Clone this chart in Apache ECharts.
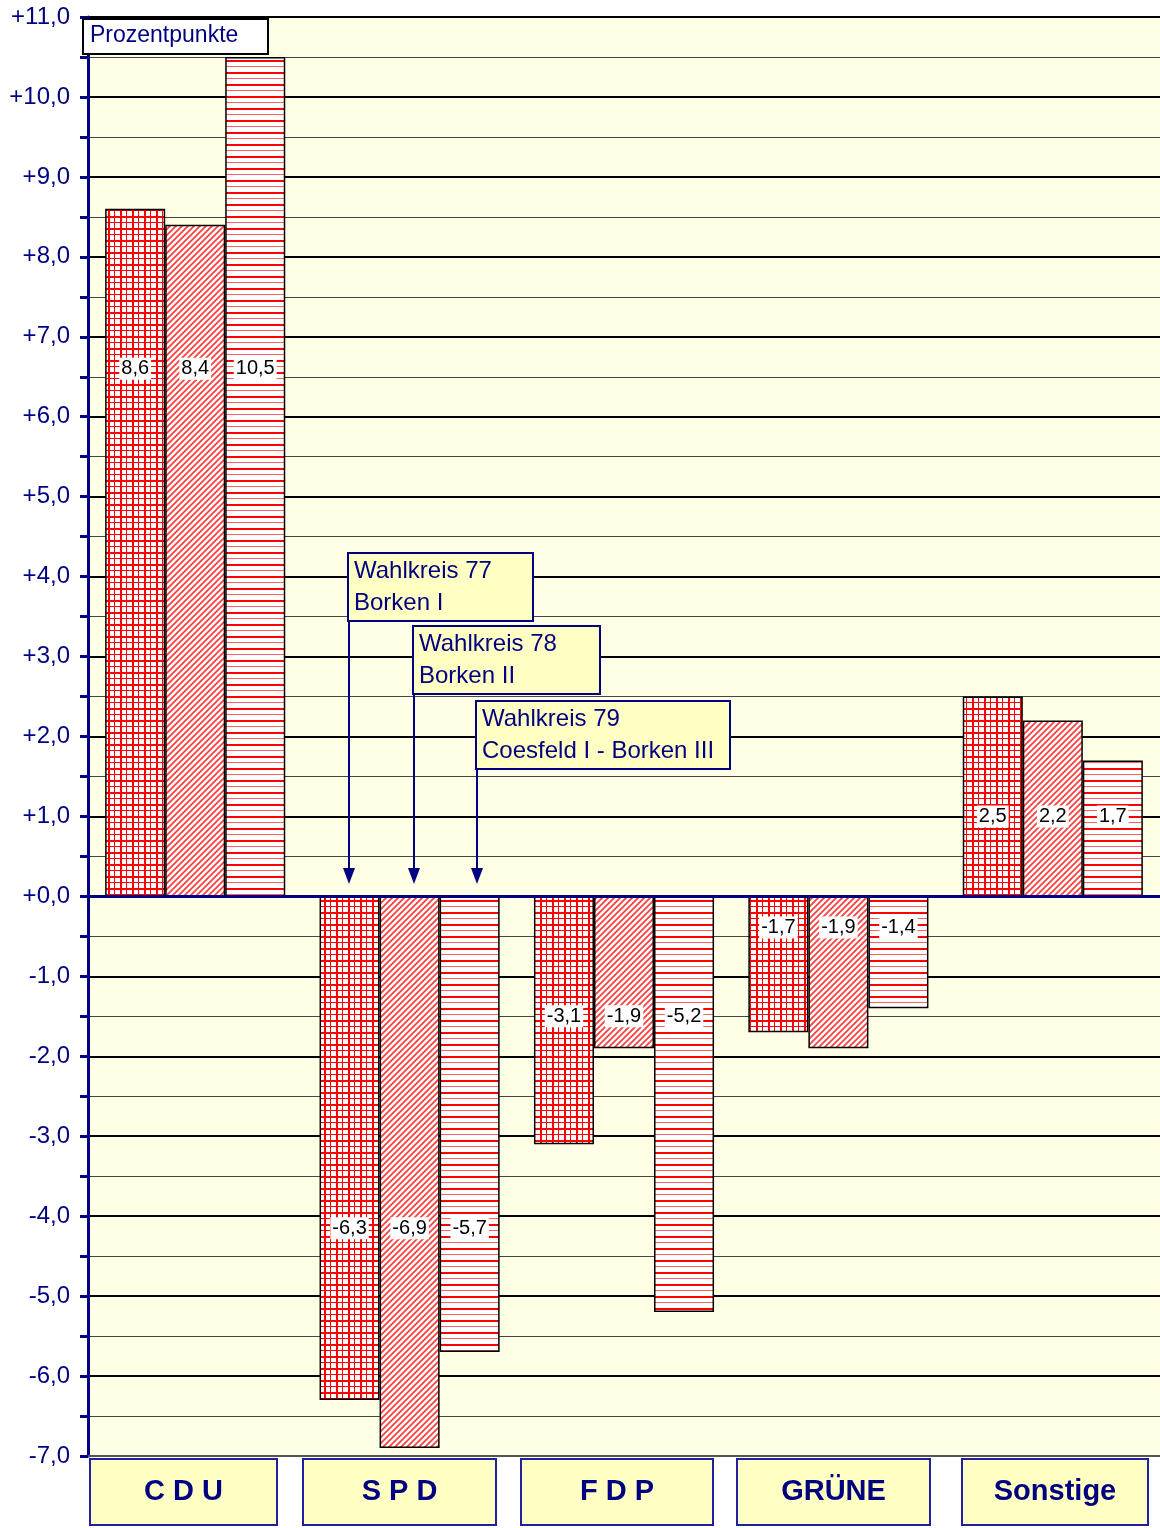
<!DOCTYPE html>
<html>
<head>
<meta charset="utf-8">
<script src="https://cdn.jsdelivr.net/npm/echarts@6/dist/echarts.min.js"></script>
<style>
  html, body { margin: 0; padding: 0; background: #fff; }
  #main { width: 1160px; height: 1528px; }
</style>
</head>
<body>
<div id="main"></div>
<script>
// Daten
const categories = ['C D U', 'S P D', 'F D P', 'GRÜNE', 'Sonstige']
const seriesNames = ['Wahlkreis 77', 'Wahlkreis 78', 'Wahlkreis 79']
const wk77 = [8.6, -6.3, -3.1, -1.7, 2.5]
const wk78 = [8.4, -6.9, -1.9, -1.9, 2.2]
const wk79 = [10.5, -5.7, -5.2, -1.4, 1.7]
const boxTexts = [
  ['Wahlkreis 77', 'Borken I'],
  ['Wahlkreis 78', 'Borken II'],
  ['Wahlkreis 79', 'Coesfeld I - Borken III']
]

const NAVY = '#000080'
const FONT = '"Liberation Sans", Arial, sans-serif'
const fmt = v => (v >= 0 ? '+' : '') + v.toFixed(1).replace('.', ',')
const fmtLabel = v => v.toFixed(1).replace('.', ',')

// Schraffur-Muster
function makePattern(kind) {
  const c = document.createElement('canvas')
  const s = kind === 'diag' ? 6 : 12
  c.width = s
  c.height = s
  const ctx = c.getContext('2d')
  ctx.fillStyle = '#fff'
  ctx.fillRect(0, 0, s, s)
  ctx.fillStyle = '#ff0000'
  if (kind === 'grid') {
    ctx.fillRect(0, 0, 2, s)
    ctx.fillRect(6, 0, 1, s)
    ctx.fillRect(0, 0, s, 2)
    ctx.fillRect(0, 6, s, 1)
  } else if (kind === 'hline') {
    ctx.fillRect(0, 0, s, 2)
    ctx.fillStyle = '#ff6060'
    ctx.fillRect(0, 6, s, 1)
  } else {
    ctx.strokeStyle = '#ff4040'
    ctx.lineWidth = 1.8
    ctx.beginPath()
    ctx.moveTo(-1, s + 1); ctx.lineTo(s + 1, -1)
    ctx.moveTo(-1, 1); ctx.lineTo(1, -1)
    ctx.moveTo(s - 1, s + 1); ctx.lineTo(s + 1, s - 1)
    ctx.stroke()
  }
  return { image: c, repeat: 'repeat' }
}
const patterns = [makePattern('grid'), makePattern('diag'), makePattern('hline')]

// Höhe der Wertebeschriftung je Partei (in Prozentpunkten)
const labelLevel = [6.6, -4.15, -1.5, -0.39, 1.0]
// Lage der Parteikästen unter der Achse (px)
const boxLeft = [90, 303, 521, 737, 962]
const boxWidth = [187, 193, 192, 193, 186]

const chart = echarts.init(document.getElementById('main'))

const buildSeries = offsets => [wk77, wk78, wk79].map((vals, i) => ({
  name: seriesNames[i],
  type: 'bar',
  barGap: 0,
  barCategoryGap: '16%',
  data: vals.map((v, j) => ({
    value: v,
    label: { offset: [0, offsets ? offsets[i][j] : 0] }
  })),
  itemStyle: {
    color: patterns[i],
    borderColor: '#000',
    borderWidth: 1.5
  },
  label: {
    show: true,
    position: 'inside',
    formatter: p => fmtLabel(p.value),
    color: '#000',
    fontFamily: FONT,
    fontSize: 20,
    backgroundColor: '#fff',
    padding: [2, 2, 0, 2]
  },
  markLine: i === 0 ? {
    silent: true,
    symbol: 'none',
    label: { show: false },
    lineStyle: { color: NAVY, width: 3, type: 'solid' },
    data: [{ yAxis: 0 }]
  } : undefined
}))

function annotation(idx, x, y, w, h, tipY) {
  return {
    type: 'group',
    children: [
      {
        type: 'line',
        z: 100,
        shape: { x1: x + 1, y1: y, x2: x + 1, y2: tipY - 10 },
        style: { stroke: NAVY, lineWidth: 2 }
      },
      {
        type: 'polygon',
        z: 100,
        shape: { points: [[x + 1 - 6, tipY - 16], [x + 1 + 6, tipY - 16], [x + 1, tipY]] },
        style: { fill: NAVY }
      },
      {
        type: 'rect',
        z: 101,
        shape: { x: x, y: y, width: w, height: h },
        style: { fill: '#FFFFC4', stroke: NAVY, lineWidth: 2 }
      },
      {
        type: 'text',
        z: 102,
        x: x + 6,
        y: y + 2,
        style: {
          text: boxTexts[idx].join('\n'),
          fill: NAVY,
          font: '24px ' + FONT,
          lineHeight: 32,
          verticalAlign: 'top'
        }
      }
    ]
  }
}

function partyBox(j) {
  return {
    type: 'group',
    children: [
      {
        type: 'rect',
        z: 100,
        shape: { x: boxLeft[j], y: 1459, width: boxWidth[j], height: 66 },
        style: { fill: '#FFFFC4', stroke: '#2020a0', lineWidth: 2 }
      },
      {
        type: 'text',
        z: 101,
        x: boxLeft[j] + boxWidth[j] / 2,
        y: 1492,
        style: {
          text: categories[j],
          fill: NAVY,
          font: 'bold 29px ' + FONT,
          align: 'center',
          verticalAlign: 'middle'
        }
      }
    ]
  }
}

const option = {
  animation: false,
  backgroundColor: '#fff',
  grid: {
    left: 88,
    right: 0,
    top: 17,
    bottom: 72,
    show: true,
    backgroundColor: '#FFFFE6',
    borderWidth: 0
  },
  xAxis: {
    type: 'category',
    data: categories,
    axisLine: { onZero: false, lineStyle: { color: '#555', width: 2 } },
    axisTick: { show: false },
    axisLabel: { show: false }
  },
  yAxis: {
    type: 'value',
    min: -7,
    max: 11,
    interval: 1,
    axisLine: { show: true, lineStyle: { color: NAVY, width: 3 } },
    axisTick: { show: true, length: 8, lineStyle: { color: NAVY, width: 3 } },
    minorTick: { show: true, splitNumber: 2, length: 8, lineStyle: { color: NAVY, width: 3 } },
    splitLine: { show: true, lineStyle: { color: '#000', width: 2 } },
    minorSplitLine: { show: true, lineStyle: { color: '#444', width: 1 } },
    axisLabel: {
      formatter: fmt,
      color: NAVY,
      fontFamily: FONT,
      fontSize: 24,
      margin: 18
    }
  },
  series: buildSeries(null),
  graphic: [
    {
      type: 'group',
      children: [
        {
          type: 'rect',
          z: 100,
          shape: { x: 83, y: 19, width: 185, height: 35 },
          style: { fill: '#fff', stroke: '#000', lineWidth: 2 }
        },
        {
          type: 'text',
          z: 101,
          x: 90,
          y: 36,
          style: { text: 'Prozentpunkte', fill: NAVY, font: '23px ' + FONT, verticalAlign: 'middle' }
        }
      ]
    },
    annotation(0, 348, 553, 185, 68, 884),
    annotation(1, 413, 626, 187, 68, 884),
    annotation(2, 476, 701, 254, 68, 884)
  ].concat(categories.map((c, j) => partyBox(j)))
}

chart.setOption(option)

// Beschriftungen auf gleiche Höhe je Partei verschieben
const py = v => chart.convertToPixel({ yAxisIndex: 0 }, v)
const offsets = [wk77, wk78, wk79].map(vals =>
  vals.map((v, j) => py(labelLevel[j]) - py(v / 2))
)
chart.setOption({ series: buildSeries(offsets) })
</script>
</body>
</html>
